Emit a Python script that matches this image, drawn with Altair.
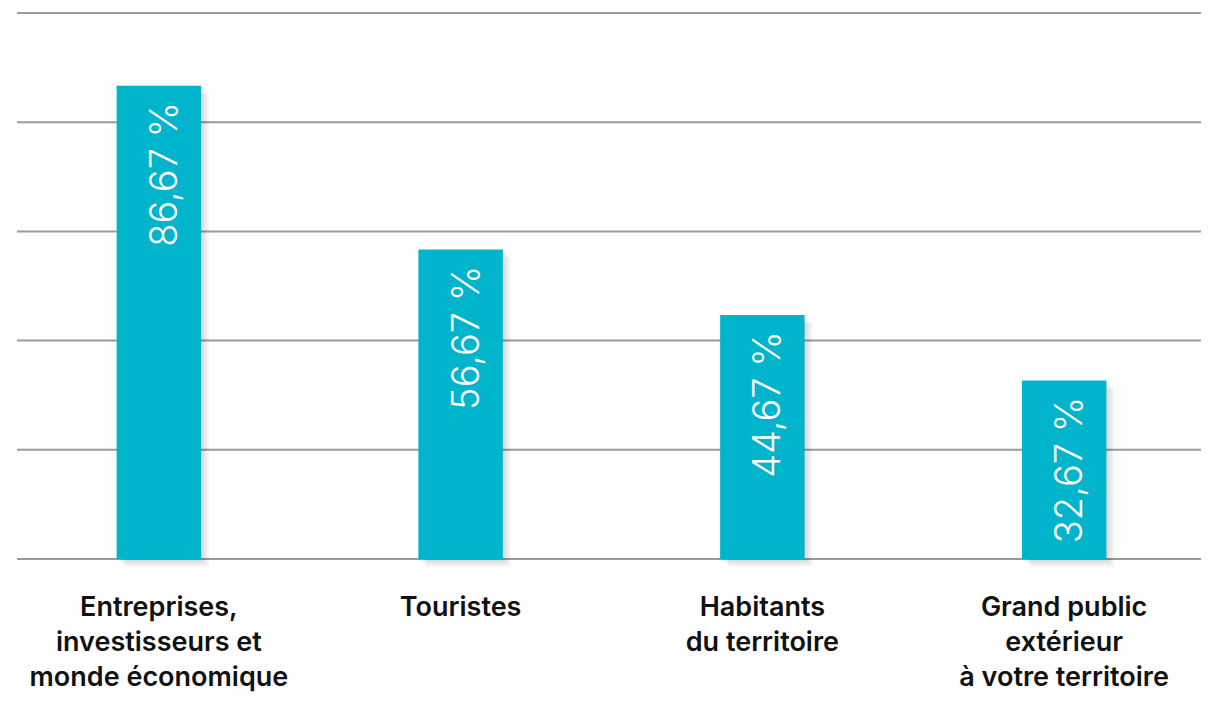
import altair as alt
import pandas as pd

keys = ["A", "B", "C", "D"]
categories = [
    "Entreprises,\ninvestisseurs et\nmonde économique",
    "Touristes",
    "Habitants\ndu territoire",
    "Grand public\nextérieur\nà votre territoire",
]
values = [86.67, 56.67, 44.67, 32.67]
value_labels = ["86,67 %", "56,67 %", "44,67 %", "32,67 %"]
grid_values = [0, 20, 40, 60, 80, 100]

df = pd.DataFrame({"key": keys, "cat": categories, "value": values, "vlabel": value_labels})
gdf = pd.DataFrame({"g": grid_values})

W, H = 1193, 546
xscale = alt.Scale(paddingInner=0.72, paddingOuter=0.36, range=[0, 1207])
yscale = alt.Scale(domain=[0, 100])

grid = alt.Chart(gdf).mark_rule(color="#9a9a9a", strokeWidth=2).encode(
    y=alt.Y("g:Q", scale=yscale, axis=None),
    x=alt.value(9),
    x2=alt.value(W),
)

base = alt.Chart(df).encode(
    x=alt.X("key:N", sort=None, scale=xscale, axis=None),
)

shadows = [
    base.mark_bar(color="#000000", opacity=0.035, xOffset=o, yOffset=o).encode(
        y=alt.Y("value:Q", scale=yscale, axis=None),
    )
    for o in (2, 4, 6, 8)
]

bars = base.mark_bar(color="#00b5cb").encode(
    y=alt.Y("value:Q", scale=yscale, axis=None),
)

vtext = base.mark_text(
    angle=270, align="right", baseline="middle", dx=-16, dy=7,
    color="white", fontSize=38, font="Inter", fontWeight=300,
).encode(
    y=alt.Y("value:Q", scale=yscale, axis=None),
    text="vlabel:N",
)

ctext = base.mark_text(
    lineBreak="\n", align="center", baseline="alphabetic",
    fontSize=27, font="Inter", fontWeight=600,
    lineHeight=35, color="#111111",
).encode(
    y=alt.value(603),
    text="cat:N",
)

chart = alt.layer(grid, *shadows, bars, vtext, ctext).properties(
    width=W, height=H,
    autosize=alt.AutoSizeParams(type="none"),
    padding={"left": 0, "top": 5, "right": 0, "bottom": 137},
).configure_view(stroke=None)

chart.save("out.html", embed_options={"renderer": "svg", "actions": False})
